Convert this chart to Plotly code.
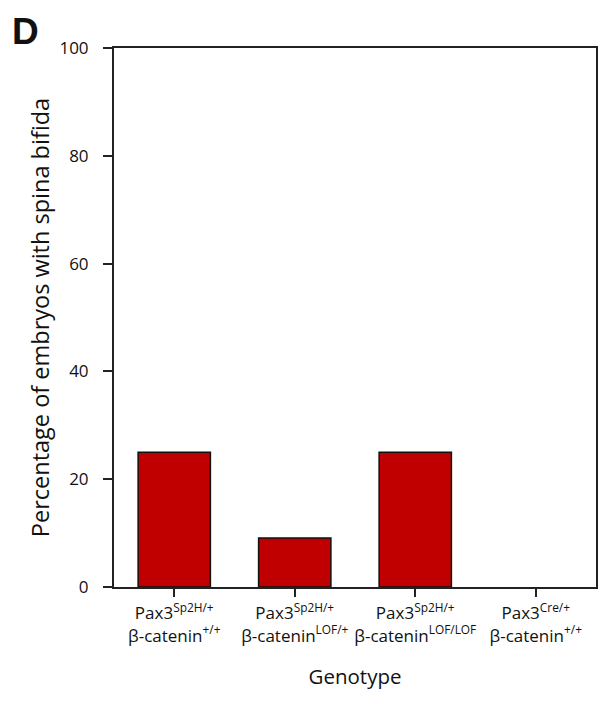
import plotly.graph_objects as go

# Genotype groups and the share of embryos with spina bifida (%)
genotypes = [
    "Pax3<sup>Sp2H/+</sup><br>β-catenin<sup>+/+</sup>",
    "Pax3<sup>Sp2H/+</sup><br>β-catenin<sup>LOF/+</sup>",
    "Pax3<sup>Sp2H/+</sup><br>β-catenin<sup>LOF/LOF</sup>",
    "Pax3<sup>Cre/+</sup><br>β-catenin<sup>+/+</sup>",
]
spina_bifida_pct = [25, 9.1, 25, 0]
y_ticks = [0, 20, 40, 60, 80, 100]

FONT = "Open Sans"

# empty groups get no outline so nothing shows on the baseline
outline_widths = [1.5 if v > 0 else 0 for v in spina_bifida_pct]

fig = go.Figure(
    go.Bar(
        x=genotypes,
        y=spina_bifida_pct,
        marker=dict(color="#C00000", line=dict(color="#111111", width=outline_widths)),
        width=0.6,
    )
)

fig.update_layout(
    width=600,
    height=705,
    margin=dict(l=114, r=4, t=48, b=118, autoexpand=False),
    plot_bgcolor="white",
    paper_bgcolor="white",
    showlegend=False,
    font=dict(family=FONT, color="#111111"),
)

fig.update_xaxes(
    title=dict(text="Genotype", font=dict(size=20.5, family=FONT), standoff=24),
    tickfont=dict(size=17, family=FONT),
    tickangle=0,
    automargin=False,
    showline=True,
    linecolor="#222222",
    linewidth=2,
    mirror=True,
    ticks="outside",
    ticklen=8,
    tickwidth=2,
    tickcolor="#222222",
    ticklabelstandoff=2,
    showgrid=False,
)

fig.update_yaxes(
    title=dict(text="Percentage of embryos with spina bifida", font=dict(size=23.5, family=FONT), standoff=3),
    range=[0, 100],
    tickvals=y_ticks,
    tickfont=dict(size=17, family=FONT),
    automargin=False,
    showline=True,
    linecolor="#222222",
    linewidth=2,
    mirror=True,
    ticks="outside",
    ticklen=9,
    tickwidth=2,
    tickcolor="#222222",
    ticklabelstandoff=11,
    showgrid=False,
    zeroline=False,
)

# Panel letter
fig.add_annotation(
    text="<b>D</b>",
    xref="paper", yref="paper",
    x=-0.215, y=1.072,
    xanchor="left", yanchor="top",
    showarrow=False,
    font=dict(size=37, family="Liberation Sans", color="#111111"),
)

fig.write_html("out.html")
